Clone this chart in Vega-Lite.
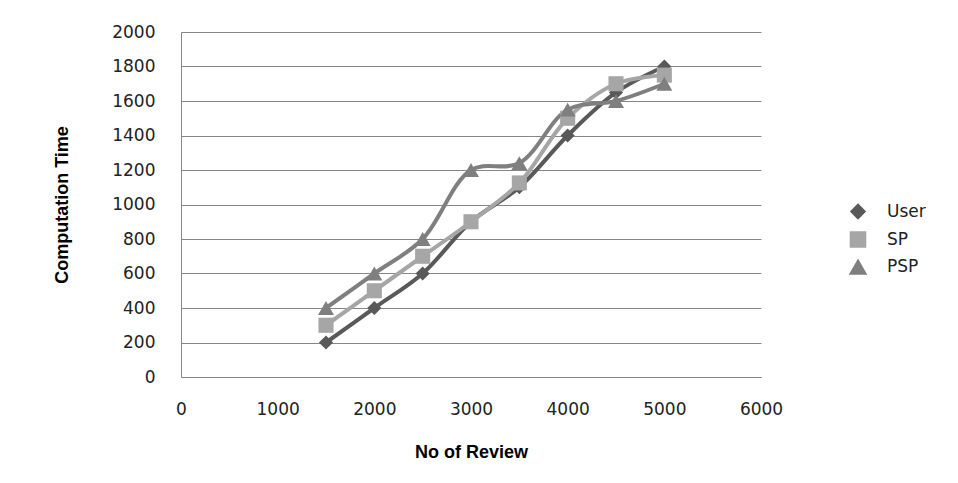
{
  "$schema": "https://vega.github.io/schema/vega-lite/v6.json",
  "width": 580,
  "height": 345,
  "autosize": "none",
  "padding": {"left": 181, "top": 32, "right": 197, "bottom": 106},
  "background": "white",
  "config": {"view": {"stroke": null}},
  "data": {
    "values": [
      {"reviews": 1500, "time": 200, "series": "User"},
      {"reviews": 2000, "time": 400, "series": "User"},
      {"reviews": 2500, "time": 600, "series": "User"},
      {"reviews": 3000, "time": 900, "series": "User"},
      {"reviews": 3500, "time": 1100, "series": "User"},
      {"reviews": 4000, "time": 1400, "series": "User"},
      {"reviews": 4500, "time": 1650, "series": "User"},
      {"reviews": 5000, "time": 1800, "series": "User"},
      {"reviews": 1500, "time": 300, "series": "SP"},
      {"reviews": 2000, "time": 500, "series": "SP"},
      {"reviews": 2500, "time": 700, "series": "SP"},
      {"reviews": 3000, "time": 900, "series": "SP"},
      {"reviews": 3500, "time": 1125, "series": "SP"},
      {"reviews": 4000, "time": 1500, "series": "SP"},
      {"reviews": 4500, "time": 1700, "series": "SP"},
      {"reviews": 5000, "time": 1750, "series": "SP"},
      {"reviews": 1500, "time": 400, "series": "PSP"},
      {"reviews": 2000, "time": 600, "series": "PSP"},
      {"reviews": 2500, "time": 800, "series": "PSP"},
      {"reviews": 3000, "time": 1200, "series": "PSP"},
      {"reviews": 3500, "time": 1240, "series": "PSP"},
      {"reviews": 4000, "time": 1550, "series": "PSP"},
      {"reviews": 4500, "time": 1600, "series": "PSP"},
      {"reviews": 5000, "time": 1700, "series": "PSP"}
    ]
  },
  "encoding": {
    "x": {
      "field": "reviews",
      "type": "quantitative",
      "scale": {"domain": [0, 6000], "nice": false},
      "axis": {
        "title": "No of Review",
        "values": [0, 1000, 2000, 3000, 4000, 5000, 6000],
        "format": "d",
        "grid": false,
        "ticks": false,
        "domainColor": "#868686",
        "domainWidth": 1,
        "labelFont": "DejaVu Sans",
        "labelFontSize": 17,
        "labelColor": "#222222",
        "labelPadding": 24,
        "labelFlush": false,
        "titleFont": "Liberation Sans",
        "titleFontWeight": "bold",
        "titleFontSize": 18,
        "titleColor": "#000000",
        "titlePadding": 26
      }
    },
    "y": {
      "field": "time",
      "type": "quantitative",
      "scale": {"domain": [0, 2000], "nice": false},
      "axis": {
        "title": "Computation Time",
        "values": [0, 200, 400, 600, 800, 1000, 1200, 1400, 1600, 1800, 2000],
        "format": "d",
        "grid": true,
        "gridColor": "#868686",
        "gridWidth": 1,
        "ticks": false,
        "domainColor": "#868686",
        "domainWidth": 1,
        "labelFont": "DejaVu Sans",
        "labelFontSize": 17,
        "labelColor": "#222222",
        "labelPadding": 26,
        "labelFlush": false,
        "titleFont": "Liberation Sans",
        "titleFontWeight": "bold",
        "titleFontSize": 18,
        "titleColor": "#000000",
        "titlePadding": 40
      }
    }
  },
  "layer": [
    {
      "mark": {"type": "line", "interpolate": "catmull-rom", "strokeWidth": 4},
      "encoding": {
        "color": {
          "field": "series",
          "type": "nominal",
          "scale": {"domain": ["User", "SP", "PSP"], "range": ["#595959", "#A6A6A6", "#7F7F7F"]}
        }
      }
    },
    {
      "mark": {"type": "point", "filled": true, "opacity": 1},
      "encoding": {
        "color": {
          "field": "series",
          "type": "nominal",
          "scale": {"domain": ["User", "SP", "PSP"], "range": ["#595959", "#A6A6A6", "#7F7F7F"]},
          "legend": {
            "orient": "none",
            "legendX": 668,
            "legendY": 171,
            "title": null,
            "labelFont": "DejaVu Sans",
            "labelFontSize": 17,
            "labelColor": "#222222",
            "labelOffset": 20,
            "rowPadding": 6
          }
        },
        "shape": {
          "field": "series",
          "type": "nominal",
          "scale": {"domain": ["User", "SP", "PSP"], "range": ["diamond", "square", "triangle-up"]},
          "legend": null
        },
        "size": {
          "field": "series",
          "type": "nominal",
          "scale": {"domain": ["User", "SP", "PSP"], "range": [200, 256, 240]},
          "legend": null
        }
      }
    }
  ]
}
